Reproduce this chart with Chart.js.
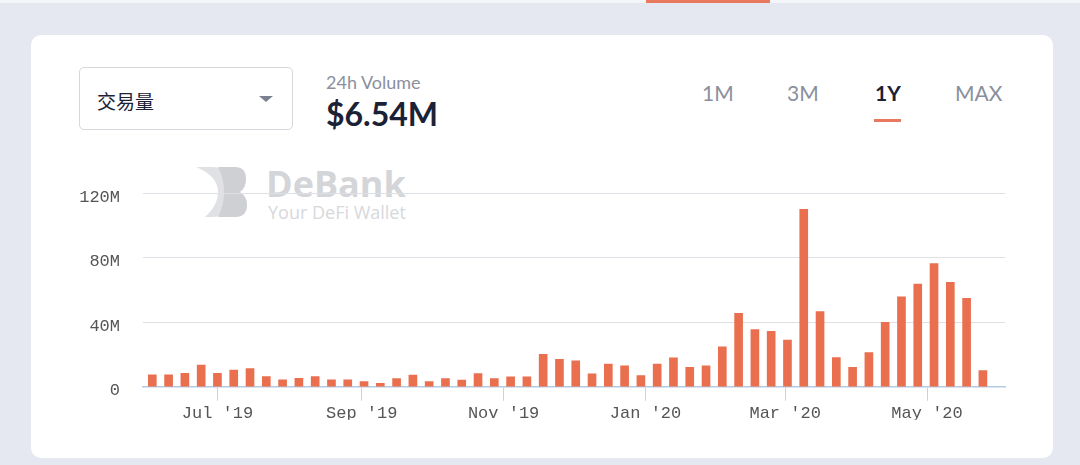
<!DOCTYPE html>
<html>
<head>
<meta charset="utf-8">
<script src="https://cdn.jsdelivr.net/npm/chart.js@4.4.1/dist/chart.umd.min.js"></script>
<style>
  html, body { margin: 0; padding: 0; }
  body {
    width: 1080px; height: 465px; overflow: hidden; position: relative;
    background: #e5e8f0; font-family: 'Lato', sans-serif;
  }
  .topstrip { position: absolute; left: 0; top: 0; width: 1080px; height: 3px; background: #f4f5f8; }
  .topstrip .active { position: absolute; left: 646px; top: 0; width: 124px; height: 3px; background: #e8795f; }
  .card {
    position: absolute; left: 31px; top: 35px; width: 1022px; height: 423px;
    background: #fff; border-radius: 10px;
  }
  .abs { position: absolute; line-height: 1; white-space: nowrap; }
  .select {
    position: absolute; left: 79px; top: 67px; width: 212px; height: 61px;
    border: 1.5px solid #d6d8dd; border-radius: 5px; background: #fff;
  }
  .select-text { left: 97px; top: 91px; font-family: 'Noto Sans CJK SC', sans-serif; font-size: 19px; color: #1c2236; }
  .caret {
    position: absolute; left: 259px; top: 96px; width: 0; height: 0;
    border-left: 7px solid transparent; border-right: 7px solid transparent;
    border-top: 6px solid #7b8190;
  }
  .vol-label { left: 326px; top: 73px; font-size: 18px; color: #8b909d; }
  .vol-value { left: 326px; top: 98px; font-size: 32px; font-weight: 700; color: #1c2236; }
  .tab { top: 82px; font-size: 21px; color: #8a8f9c; }
  .tab.on { font-weight: 700; color: #1c2236; }
  .tab-line { position: absolute; left: 874px; top: 119px; width: 27px; height: 3px; background: #e8795f; }
  .wm-title { left: 266px; top: 166px; font-family: 'Open Sans', sans-serif; font-weight: 700; font-size: 36px; color: #d4d5d9; }
  .wm-sub { left: 268px; top: 203px; font-family: 'Open Sans', sans-serif; font-size: 18px; color: #d7d8dc; }
  .wm-logo { position: absolute; left: 190px; top: 160px; }
  #wrap { position: absolute; left: 60px; top: 160px; width: 960px; height: 260px; }
</style>
</head>
<body>
<div class="topstrip"><div class="active"></div></div>
<div class="card"></div>

<div class="select"></div>
<div class="abs select-text">交易量</div>
<div class="caret"></div>

<div class="abs vol-label">24h Volume</div>
<div class="abs vol-value">$6.54M</div>

<div class="abs tab" style="left:702px">1M</div>
<div class="abs tab" style="left:787px">3M</div>
<div class="abs tab on" style="left:875px">1Y</div>
<div class="abs tab" style="left:955px">MAX</div>
<div class="tab-line"></div>

<svg class="wm-logo" width="64" height="64" viewBox="190 160 64 64">
  <path d="M196 167 H213 Q232 167 232 192 Q232 217 213 217 H205 Q218 206 218 192 Q218 176 196 167 Z" fill="#e0e1e4"/>
  <path d="M218 167 H235 Q246 167 246 179 Q246 188 240 192 Q247 196 247 205 Q247 217 235 217 H218 Q224 206 224 192 Q224 178 218 167 Z" fill="#cfd0d4"/>
</svg>
<div class="abs wm-title">DeBank</div>
<div class="abs wm-sub">Your DeFi Wallet</div>

<div id="wrap"><canvas id="chart"></canvas></div>

<script>
// weekly buckets (week start dates)
const weeks = [
  '2019-06-03', '2019-06-10', '2019-06-17', '2019-06-24', '2019-07-01', '2019-07-08', '2019-07-15',
  '2019-07-22', '2019-07-29', '2019-08-05', '2019-08-12', '2019-08-19', '2019-08-26', '2019-09-02',
  '2019-09-09', '2019-09-16', '2019-09-23', '2019-09-30', '2019-10-07', '2019-10-14', '2019-10-21',
  '2019-10-28', '2019-11-04', '2019-11-11', '2019-11-18', '2019-11-25', '2019-12-02', '2019-12-09',
  '2019-12-16', '2019-12-23', '2019-12-30', '2020-01-06', '2020-01-13', '2020-01-20', '2020-01-27',
  '2020-02-03', '2020-02-10', '2020-02-17', '2020-02-24', '2020-03-02', '2020-03-09', '2020-03-16',
  '2020-03-23', '2020-03-30', '2020-04-06', '2020-04-13', '2020-04-20', '2020-04-27', '2020-05-04',
  '2020-05-11', '2020-05-18', '2020-05-25'
];

// volume in millions of USD
const volume = [
  7.4, 7.4, 8.4, 13.4, 8.4, 10.3, 11.3,
  6.4, 4.3, 5.3, 6.4, 4.3, 4.3, 3.3,
  2.2, 5.1, 7.2, 3.3, 5.1, 4.2, 8.2,
  5.1, 6.2, 6.2, 20.2, 17.1, 16.1, 8.0,
  14.1, 13.0, 7.0, 14.1, 18.0, 12.1, 13.0,
  24.8, 45.6, 35.5, 34.4, 28.9, 110, 46.7,
  18.1, 12.1, 21.2, 40.0, 55.8, 63.7, 76.4,
  64.7, 54.8, 10.1
];

const tickDates = ['2019-07-01', '2019-09-01', '2019-11-01', '2020-01-01', '2020-03-01', '2020-05-01'];
const tickLabels = ["Jul '19", "Sep '19", "Nov '19", "Jan '20", "Mar '20", "May '20"];
const yTicks = [0, 40, 80, 120];

const base = Date.UTC(2019, 6, 1);
function dayNum(s) {
  const p = s.split('-').map(Number);
  return (Date.UTC(p[0], p[1] - 1, p[2]) - base) / 86400000;
}

const points = weeks.map((w, i) => ({ x: dayNum(w), y: volume[i] }));
const tickDays = tickDates.map(dayNum);

const monoFont = { family: "'Liberation Mono', 'Courier New', monospace", size: 17 };

new Chart(document.getElementById('chart').getContext('2d'), {
  type: 'bar',
  data: {
    datasets: [{
      data: points,
      backgroundColor: '#e96f4f',
      barThickness: 8,
      borderWidth: 0
    }]
  },
  options: {
    responsive: true,
    maintainAspectRatio: false,
    animation: false,
    layout: { padding: { top: 23, right: 15, left: 0, bottom: 0 } },
    plugins: { legend: { display: false }, tooltip: { enabled: false } },
    scales: {
      x: {
        type: 'linear',
        min: -32,
        max: 338.5,
        offset: false,
        afterBuildTicks: (scale) => { scale.ticks = tickDays.map(v => ({ value: v })); },
        afterFit: (scale) => { scale.height = 33; },
        grid: {
          drawOnChartArea: false,
          drawTicks: true,
          tickLength: 14,
          color: '#c8d4e2',
          offset: false
        },
        border: { display: true, color: '#b3cce3', width: 1.5 },
        ticks: {
          autoSkip: false,
          maxRotation: 0,
          padding: 2,
          color: '#555555',
          font: monoFont,
          callback: (value, index) => tickLabels[index]
        }
      },
      y: {
        min: 0,
        max: 120,
        afterBuildTicks: (scale) => { scale.ticks = yTicks.map(v => ({ value: v })); },
        afterFit: (scale) => { scale.width = 83; },
        grid: { color: '#dfe0e5', drawTicks: false },
        border: { display: false },
        ticks: {
          padding: 23,
          labelOffset: 4,
          color: '#555555',
          font: monoFont,
          callback: (value) => value === 0 ? '0' : value + 'M'
        }
      }
    }
  }
});
</script>
</body>
</html>
